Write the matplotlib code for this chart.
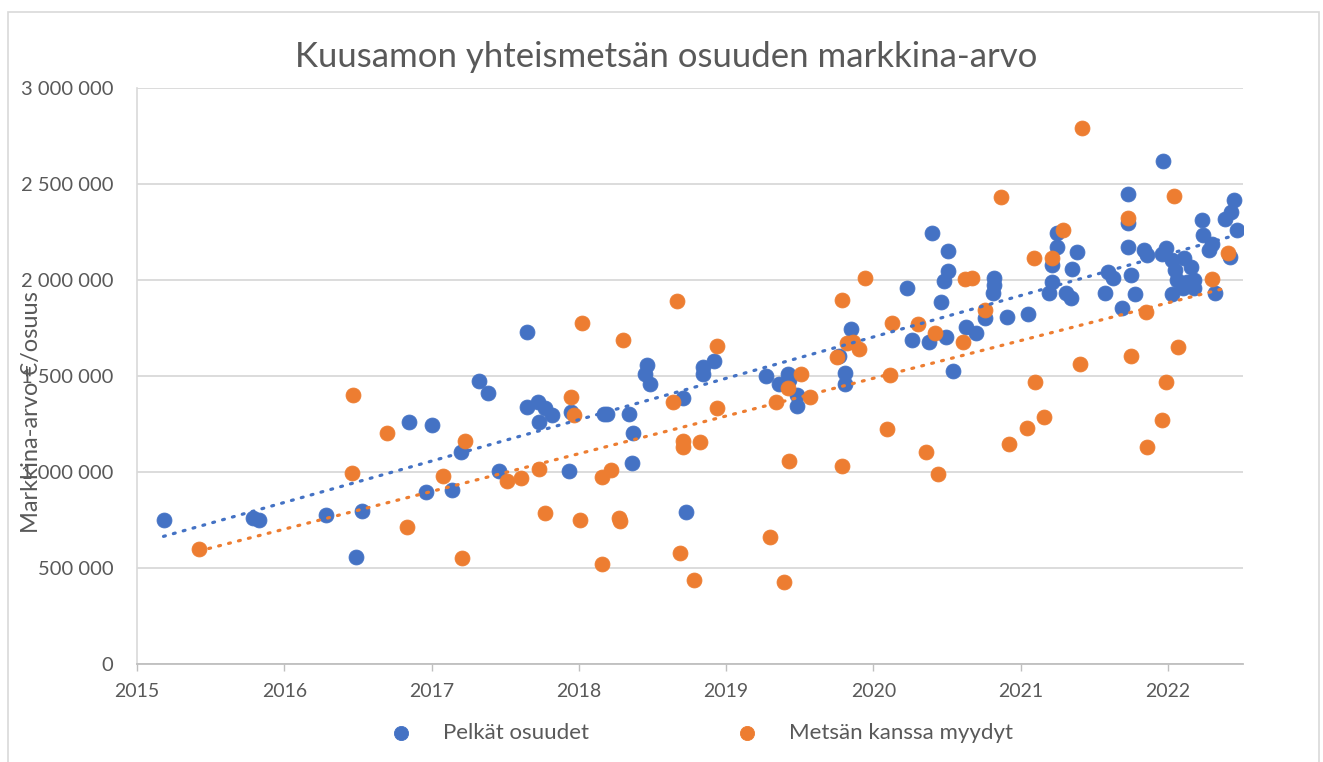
import numpy as np
import matplotlib.pyplot as plt
from matplotlib.ticker import FuncFormatter, MultipleLocator
from matplotlib.patches import Rectangle

plt.rcParams['font.family'] = ['Lato', 'DejaVu Sans']

# Pelkät osuudet (year, €/osuus)
blue_x = [2015.18, 2015.79, 2015.83, 2016.28, 2016.49, 2016.53, 2016.85, 2016.96, 2017.00, 2017.14,
          2017.20, 2017.32, 2017.38, 2017.46, 2017.65, 2017.65, 2017.72, 2017.77, 2017.82, 2017.73,
          2017.93, 2017.95, 2018.17, 2018.19, 2018.34, 2018.37, 2018.36, 2018.46, 2018.45, 2018.48,
          2018.71, 2018.73, 2018.84, 2018.84, 2018.92, 2019.27, 2019.42, 2019.36, 2019.48, 2019.48,
          2019.43, 2019.85, 2019.77, 2019.81, 2019.81, 2020.23, 2020.40, 2020.51, 2020.51, 2020.48,
          2020.46, 2020.26, 2020.38, 2020.49, 2020.63, 2020.70, 2020.76, 2020.91, 2021.05, 2020.54,
          2020.82, 2020.82, 2020.81, 2021.25, 2021.25, 2021.21, 2021.21, 2021.19, 2021.38, 2021.35,
          2021.31, 2021.34, 2021.59, 2021.63, 2021.57, 2021.69, 2021.73, 2021.73, 2021.73, 2021.75,
          2021.78, 2021.84, 2021.86, 2021.97, 2021.96, 2021.99, 2022.03, 2022.11, 2022.16, 2022.05,
          2022.06, 2022.13, 2022.18, 2022.10, 2022.18, 2022.03, 2022.32, 2022.23, 2022.24, 2022.30,
          2022.28, 2022.42, 2022.39, 2022.43, 2022.45, 2022.47]
blue_y = [750000, 760000, 750000, 776000, 557000, 797000, 1260000, 896000, 1245000, 906000,
          1104000, 1474000, 1411000, 1005000, 1729000, 1339000, 1365000, 1333000, 1297000, 1260000,
          1005000, 1313000, 1302000, 1302000, 1302000, 1203000, 1047000, 1557000, 1510000, 1458000,
          1385000, 792000, 1547000, 1510000, 1578000, 1500000, 1510000, 1458000, 1401000, 1344000,
          1479000, 1745000, 1604000, 1516000, 1458000, 1958000, 2245000, 2151000, 2047000, 1995000,
          1885000, 1688000, 1677000, 1703000, 1755000, 1724000, 1802000, 1807000, 1823000, 1526000,
          2010000, 1974000, 1932000, 2245000, 2172000, 2078000, 1990000, 1932000, 2146000, 2057000,
          1932000, 1906000, 2042000, 2010000, 1932000, 1854000, 2448000, 2297000, 2172000, 2026000,
          1927000, 2156000, 2130000, 2620000, 2135000, 2167000, 2104000, 2115000, 2068000, 2052000,
          2000000, 1990000, 2000000, 1958000, 1958000, 1927000, 1932000, 2313000, 2234000, 2188000,
          2156000, 2120000, 2318000, 2354000, 2417000, 2260000]

# Metsän kanssa myydyt
orange_x = [2015.42, 2016.47, 2016.46, 2016.70, 2016.83, 2017.08, 2017.23, 2017.21, 2017.51, 2017.61,
            2017.73, 2017.77, 2017.95, 2017.97, 2018.02, 2018.01, 2018.16, 2018.22, 2018.16, 2018.27,
            2018.28, 2018.30, 2018.67, 2018.64, 2018.71, 2018.71, 2018.82, 2018.69, 2018.78, 2018.94,
            2018.94, 2019.30, 2019.39, 2019.43, 2019.34, 2019.42, 2019.51, 2019.57, 2019.79, 2019.94,
            2019.75, 2019.82, 2019.86, 2019.90, 2019.79, 2020.09, 2020.11, 2020.13, 2020.30, 2020.42,
            2020.36, 2020.44, 2020.61, 2020.62, 2020.67, 2020.76, 2020.87, 2020.92, 2021.04, 2021.10,
            2021.09, 2021.16, 2021.21, 2021.29, 2021.40, 2021.42, 2021.73, 2021.75, 2021.85, 2021.86,
            2021.96, 2021.99, 2022.04, 2022.07, 2022.30, 2022.41]
orange_y = [599000, 1401000, 995000, 1203000, 714000, 979000, 1161000, 552000, 953000, 969000,
            1016000, 786000, 1391000, 1297000, 1776000, 750000, 974000, 1010000, 521000, 760000,
            745000, 1688000, 1891000, 1365000, 1161000, 1130000, 1156000, 578000, 438000, 1656000,
            1333000, 661000, 427000, 1057000, 1365000, 1437000, 1510000, 1391000, 1896000, 2010000,
            1599000, 1672000, 1677000, 1641000, 1031000, 1224000, 1505000, 1776000, 1771000, 1724000,
            1104000, 990000, 1677000, 2005000, 2010000, 1844000, 2432000, 1146000, 1229000, 1469000,
            2115000, 1286000, 2115000, 2260000, 1563000, 2792000, 2323000, 1604000, 1833000, 1130000,
            1271000, 1469000, 2438000, 1651000, 2005000, 2141000]

year_ticks = [2015, 2016, 2017, 2018, 2019, 2020, 2021, 2022]

BLUE = "#4472C4"
ORANGE = "#ED7D31"
TEXT = "#595959"
GRID = "#D9D9D9"

fig = plt.figure(figsize=(13.23, 7.62), dpi=100)
ax = fig.add_axes([137 / 1323, 1 - 664 / 762, (1243 - 137) / 1323, (664 - 88) / 762])

# outer chart border
fig.patches.append(Rectangle((8 / 1323, -0.05), 1311 / 1323, 1.05 - 12 / 762, transform=fig.transFigure,
                             fill=False, edgecolor="#D9D9D9", linewidth=1.2))

ax.scatter(blue_x, blue_y, s=115, color=BLUE, edgecolors=BLUE, linewidths=0.6, zorder=3,
           label="Pelkät osuudet")
ax.scatter(orange_x, orange_y, s=115, color=ORANGE, edgecolors=ORANGE, linewidths=0.6, zorder=3,
           label="Metsän kanssa myydyt")

# linear trendlines
for xs, ys, c in [(blue_x, blue_y, BLUE), (orange_x, orange_y, ORANGE)]:
    xs = np.array(xs)
    k, b = np.polyfit(xs, ys, 1)
    xx = np.array([xs.min(), xs.max()])
    ax.plot(xx, k * xx + b, color=c, linewidth=2.3, linestyle=(0, (0.6, 2.6)),
            dash_capstyle="round", zorder=4)

ax.set_xlim(2015, 2022.51)
ax.set_ylim(0, 3000000)
ax.set_xticks(year_ticks)
ax.yaxis.set_major_locator(MultipleLocator(500000))
ax.yaxis.set_major_formatter(FuncFormatter(lambda v, p: f"{int(v):,}".replace(",", " ")))
ax.grid(axis="y", color=GRID, linewidth=1.3, zorder=0)
ax.set_axisbelow(True)

for s in ["top", "right"]:
    ax.spines[s].set_visible(False)
ax.spines["left"].set_color(GRID)
ax.spines["left"].set_linewidth(1.2)
ax.spines["bottom"].set_color("#BFBFBF")
ax.spines["bottom"].set_linewidth(1.3)

ax.tick_params(axis="y", length=0, pad=17, labelsize=14.5, labelcolor=TEXT)
ax.tick_params(axis="x", length=5, width=1, color="#BFBFBF", pad=9, labelsize=14, labelcolor=TEXT)

fig.text(0.5035, 1 - 57 / 762, "Kuusamon yhteismetsän osuuden markkina-arvo", ha="center", va="center",
         fontsize=25, color=TEXT)
fig.text(32 / 1323, 1 - 412 / 762, "Markkina-arvo €/osuus", rotation=90, ha="center", va="center",
         fontsize=17, color=TEXT)

fig.legend(loc="center", bbox_to_anchor=(0.5257, 1 - 733 / 762), ncol=2, frameon=False,
           fontsize=16, labelcolor=TEXT, columnspacing=6.1, handletextpad=0.9, markerscale=0.95)

fig.savefig("out.png", dpi=100)
